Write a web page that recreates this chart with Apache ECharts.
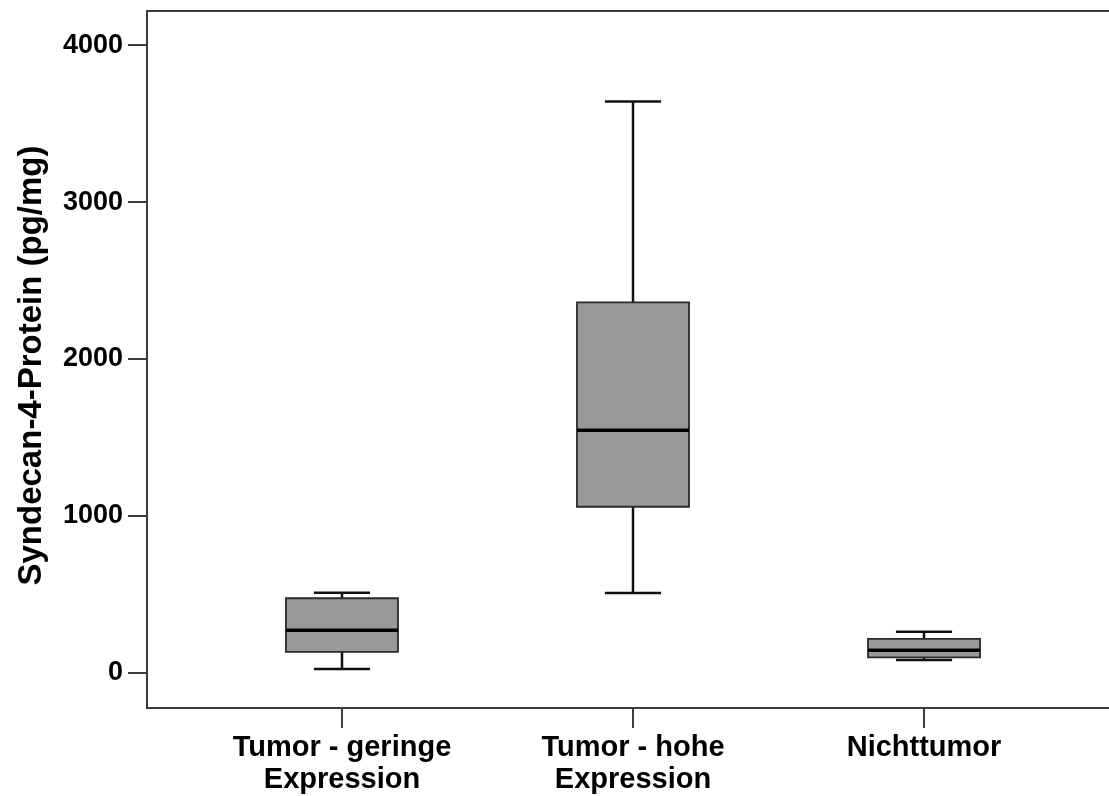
<!DOCTYPE html>
<html>
<head>
<meta charset="utf-8">
<script src="https://cdn.jsdelivr.net/npm/echarts@6/dist/echarts.min.js"></script>
<style>
  html, body { margin: 0; padding: 0; background: #ffffff; }
  #chart { width: 1109px; height: 796px; }
</style>
</head>
<body>
<div id="chart"></div>
<script>
// Group names (x axis) and box statistics, pg/mg
const categories = ['Tumor - geringe\nExpression', 'Tumor - hohe\nExpression', 'Nichttumor'];
const whiskerLow  = [25, 510, 83];
const quartile1   = [134, 1059, 100];
const medianVals  = [272, 1546, 145];
const quartile3   = [476, 2361, 217];
const whiskerHigh = [511, 3641, 263];
const yTickValues = [0, 1000, 2000, 3000, 4000];

const FONT = '"Liberation Sans", Arial, Helvetica, sans-serif';
const BOX_W = 0.385;   // box width in x-axis units
const CAP_W = 0.193;   // whisker cap width in x-axis units

const groupPositions = categories.map((_, i) => i + 1);
const boxData = categories.map((_, i) => [
  groupPositions[i], whiskerLow[i], quartile1[i], medianVals[i], quartile3[i], whiskerHigh[i]
]);

function renderBox(params, api) {
  const x = api.value(0);
  const lo = api.coord([x, api.value(1)]);
  const q1 = api.coord([x, api.value(2)]);
  const md = api.coord([x, api.value(3)]);
  const q3 = api.coord([x, api.value(4)]);
  const hi = api.coord([x, api.value(5)]);
  const bw = api.size([BOX_W, 0])[0];
  const cw = api.size([CAP_W, 0])[0];
  const cx = lo[0];
  const wStyle = { stroke: '#111', lineWidth: 2.5 };
  return {
    type: 'group',
    children: [
      { type: 'line', shape: { x1: cx, y1: hi[1], x2: cx, y2: q3[1] }, style: wStyle },
      { type: 'line', shape: { x1: cx, y1: q1[1], x2: cx, y2: lo[1] }, style: wStyle },
      { type: 'line', shape: { x1: cx - cw / 2, y1: hi[1], x2: cx + cw / 2, y2: hi[1] }, style: wStyle },
      { type: 'line', shape: { x1: cx - cw / 2, y1: lo[1], x2: cx + cw / 2, y2: lo[1] }, style: wStyle },
      { type: 'rect', shape: { x: cx - bw / 2, y: q3[1], width: bw, height: q1[1] - q3[1] },
        style: { fill: '#999999', stroke: '#2a2a2a', lineWidth: 1.8 } },
      { type: 'line', shape: { x1: cx - bw / 2, y1: md[1], x2: cx + bw / 2, y2: md[1] },
        style: { stroke: '#000', lineWidth: 3.4 } }
    ]
  };
}

const chart = echarts.init(document.getElementById('chart'), null, { renderer: 'canvas' });
chart.setOption({
  animation: false,
  backgroundColor: '#ffffff',
  textStyle: { fontFamily: FONT },
  grid: {
    left: 147, top: 11, width: 972, height: 697,
    outerBoundsMode: 'none',
    containLabel: false,
    show: true, borderColor: '#3c3c3c', borderWidth: 2, backgroundColor: 'transparent'
  },
  xAxis: {
    type: 'value',
    min: 0.33, max: 3.67,
    splitLine: { show: false },
    axisLine: { show: true, onZero: false, lineStyle: { color: '#3c3c3c', width: 2 } },
    axisTick: { show: true, length: 20, customValues: groupPositions,
                lineStyle: { color: '#3c3c3c', width: 2 } },
    axisLabel: {
      customValues: groupPositions,
      formatter: v => categories[Math.round(v) - 1] || '',
      margin: 24, fontSize: 29, fontWeight: 'bold', color: '#000',
      lineHeight: 32, fontFamily: FONT
    }
  },
  yAxis: {
    type: 'value',
    min: -223, max: 4217,
    splitLine: { show: false },
    axisLine: { show: true, onZero: false, lineStyle: { color: '#3c3c3c', width: 2 } },
    axisTick: { show: true, length: 19, customValues: yTickValues,
                lineStyle: { color: '#3c3c3c', width: 2 } },
    axisLabel: {
      customValues: yTickValues,
      formatter: v => String(v),
      margin: 24, fontSize: 27, fontWeight: 'bold', color: '#000', fontFamily: FONT
    },
    name: 'Syndecan-4-Protein (pg/mg)',
    nameLocation: 'middle',
    nameGap: 99,
    nameTextStyle: { fontSize: 33, fontWeight: 'bold', color: '#000', fontFamily: FONT,
                     padding: [0, 12, 0, 0] }
  },
  series: [{
    type: 'custom',
    renderItem: renderBox,
    encode: { x: 0, y: [1, 2, 3, 4, 5] },
    data: boxData,
    clip: false
  }]
});
</script>
</body>
</html>
